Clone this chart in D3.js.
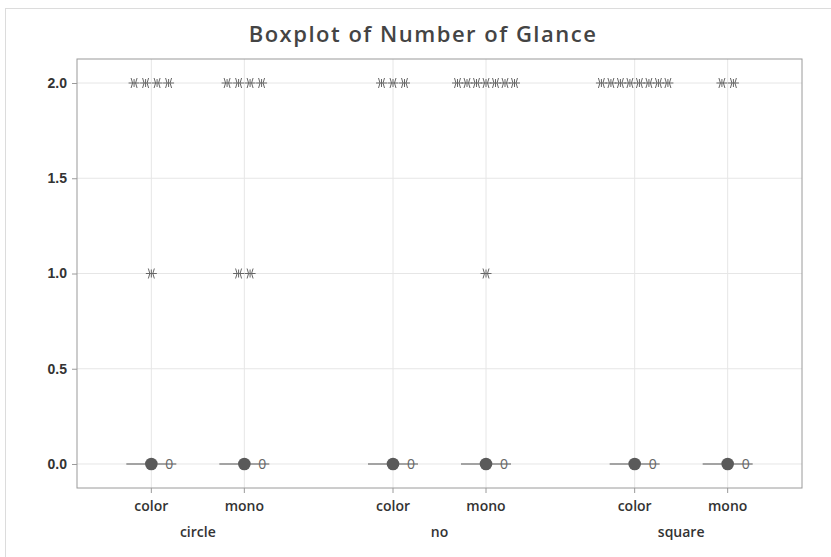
<!DOCTYPE html>
<html>
<head>
<meta charset="utf-8">
<script src="https://cdn.jsdelivr.net/npm/d3@7"></script>
<style>
  body { margin: 0; background: #fff; }
  svg { font-family: "Open Sans", sans-serif; }
</style>
</head>
<body>
<div id="chart"></div>
<script>
// groups and sub-categories
var groups = ["circle", "no", "square"];
var colors = ["color", "mono"];
// count of outliers at value 2 and value 1 for each group/colour
var outliersAt2 = [4, 4, 3, 7, 8, 2];
var outliersAt1 = [1, 2, 0, 1, 0, 0];
// box stats (all collapsed to 0)
var medians = [0, 0, 0, 0, 0, 0];
var means = [0, 0, 0, 0, 0, 0];
var yTicks = [0, 0.5, 1.0, 1.5, 2.0];

var W = 831, H = 557;
var m = { left: 77, right: 29, top: 59, bottom: 69 };
var pw = W - m.left - m.right, ph = H - m.top - m.bottom;

var svg = d3.select("#chart").append("svg").attr("width", W).attr("height", H);

svg.append("rect").attr("x", 5.5).attr("y", 8.5).attr("width", W).attr("height", H)
  .attr("fill", "none").attr("stroke", "#dcdcdc");

svg.append("text").attr("x", 423).attr("y", 42).attr("text-anchor", "middle")
  .style("font-size", "22px").style("font-weight", 600).style("letter-spacing", "1.5px")
  .attr("fill", "#444").text("Boxplot of Number of Glance");

var g = svg.append("g").attr("transform", "translate(" + m.left + "," + m.top + ")");

var y = d3.scaleLinear().domain([-0.126, 2.126]).range([ph, 0]);

// build category list
var cats = [];
groups.forEach(function(gr, i) {
  colors.forEach(function(c, j) { cats.push({ group: gr, color: c, key: gr + "-" + c, gi: i, ci: j }); });
});
// positions: outer points for groups, inner offsets for colour
var xg = d3.scalePoint().domain(groups).range([0, pw]).padding(0.5);
var xc = d3.scalePoint().domain(colors).range([-46.5, 46.5]);
function cx(d) { return xg(d.group) + xc(d.color); }

// grid
g.selectAll(".hg").data(yTicks).enter().append("line")
  .attr("x1", 0).attr("x2", pw).attr("y1", function(d) { return y(d); }).attr("y2", function(d) { return y(d); })
  .attr("stroke", "#e6e6e6");
g.selectAll(".vg").data(cats).enter().append("line")
  .attr("x1", cx).attr("x2", cx).attr("y1", 0).attr("y2", ph).attr("stroke", "#e6e6e6");

// frame
g.append("rect").attr("x", 0).attr("y", 0).attr("width", pw).attr("height", ph)
  .attr("fill", "none").attr("stroke", "#9a9a9a");

// y axis
var ya = g.append("g").call(d3.axisLeft(y).tickValues(yTicks).tickFormat(d3.format(".1f")).tickSize(5).tickPadding(5));
ya.select(".domain").remove();
ya.selectAll("line").attr("stroke", "#9a9a9a");
ya.selectAll("text").style("font-size", "14px").style("font-weight", 600).attr("fill", "#333");

// x ticks
var xa = g.append("g").attr("transform", "translate(0," + ph + ")");
xa.selectAll("line").data(cats).enter().append("line")
  .attr("x1", cx).attr("x2", cx).attr("y1", 0).attr("y2", 5).attr("stroke", "#9a9a9a");
xa.selectAll(".ct").data(cats).enter().append("text")
  .attr("x", cx).attr("y", 23).attr("text-anchor", "middle")
  .style("font-size", "14px").style("font-weight", 600).attr("fill", "#333")
  .text(function(d) { return d.color; });
xa.selectAll(".gt").data(groups).enter().append("text")
  .attr("x", function(d) { return xg(d); }).attr("y", 49).attr("text-anchor", "middle")
  .style("font-size", "14px").style("font-weight", 600).attr("fill", "#333")
  .text(function(d) { return d; });

// collapsed boxes
var boxHalf = 25;
var boxes = g.selectAll(".box").data(cats).enter().append("g");
boxes.append("line")
  .attr("x1", function(d) { return cx(d) - boxHalf; }).attr("x2", function(d) { return cx(d) + boxHalf; })
  .attr("y1", function(d, i) { return y(medians[i]); }).attr("y2", function(d, i) { return y(medians[i]); })
  .attr("stroke", "#555").attr("stroke-width", 1.2);
boxes.append("text")
  .attr("x", function(d) { return cx(d) + 18; }).attr("y", function(d, i) { return y(medians[i]) + 5; })
  .attr("text-anchor", "middle").style("font-size", "14px").attr("fill", "#666").text("0");
boxes.append("circle")
  .attr("cx", cx).attr("cy", function(d, i) { return y(means[i]); }).attr("r", 6.3)
  .attr("fill", "#5a5a5a");

// outliers drawn as asterisks, placed side by side around the category centre
function drawOutliers(counts, val) {
  cats.forEach(function(d, i) {
    var n = counts[i];
    for (var k = 0; k < n; k++) {
      var sp = n > 4 ? 9.5 : 11.5;
      var xx = cx(d) + (k - (n - 1) / 2) * sp;
      var s = g.append("g").attr("transform", "translate(" + xx + "," + y(val) + ")");
      s.append("path").attr("d", "M-5.5,0 H5.5 M-3,-5 Q0,0 -3,5 M3,-5 Q0,0 3,5 M0,-4 V4")
        .attr("fill", "none").attr("stroke", "#666").attr("stroke-width", 1);
    }
  });
}
drawOutliers(outliersAt2, 2);
drawOutliers(outliersAt1, 1);
</script>
</body>
</html>
